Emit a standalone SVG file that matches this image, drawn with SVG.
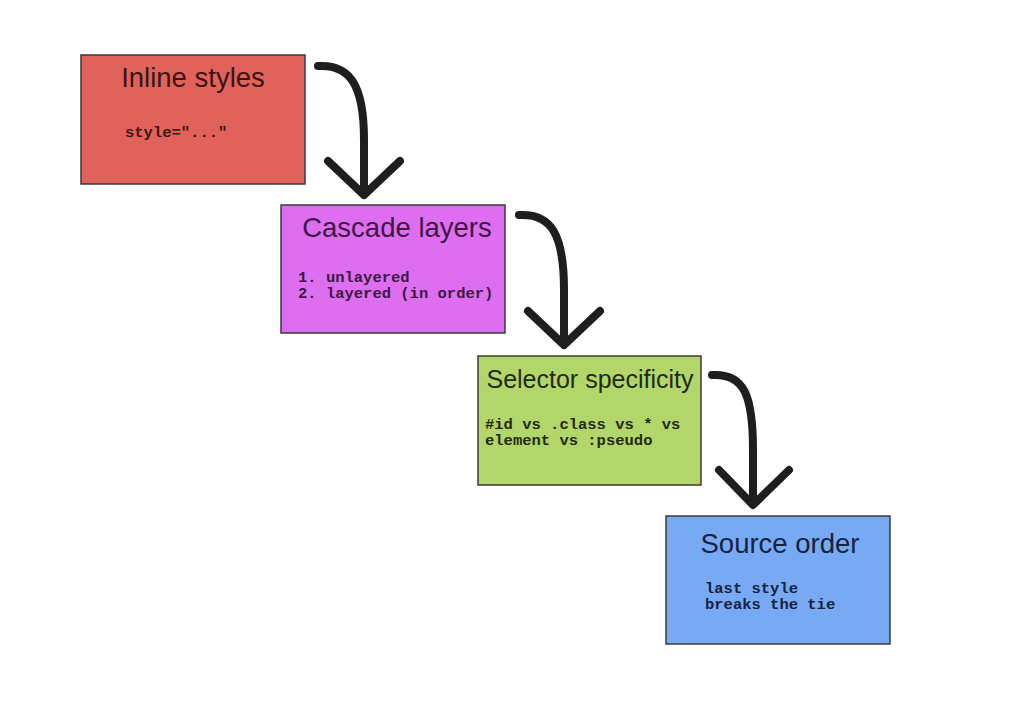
<svg xmlns="http://www.w3.org/2000/svg" width="1023" height="721" viewBox="0 0 1023 721">
<style>
.box{stroke:#3a3a3a;stroke-width:1.5}
.title{font-family:"Liberation Sans",Arial,sans-serif;font-size:27.5px;text-anchor:middle}
.code{font-family:"Liberation Mono","Courier New",monospace;font-size:15.5px;font-weight:bold}
.arrow{fill:none;stroke:#1e1e1e;stroke-width:8;stroke-linecap:round;stroke-linejoin:round}
</style>
<rect width="1023" height="721" fill="#ffffff"/>
<g id="node-inline">
<rect class="box" x="81" y="55" width="224" height="129" fill="#e0625a"/>
<text class="title" x="193" y="87" fill="#3a1512">Inline styles</text>
<text class="code" x="125" y="137" fill="#3a1512">style="..."</text>
</g>
<g id="node-layers">
<rect class="box" x="281" y="205" width="224" height="128" fill="#dd6ef0"/>
<text class="title" x="397" y="237" fill="#3d1646">Cascade layers</text>
<text class="code" x="298" y="282" fill="#3d1646">1. unlayered</text>
<text class="code" x="298" y="298" fill="#3d1646">2. layered (in order)</text>
</g>
<g id="node-specificity">
<rect class="box" x="478" y="356" width="223" height="129" fill="#b3d66a"/>
<text class="title" x="590" y="388" fill="#1f2a10" style="font-size:25px">Selector specificity</text>
<text class="code" x="485" y="429" fill="#1f2a10">#id vs .class vs * vs</text>
<text class="code" x="485" y="445" fill="#1f2a10">element vs :pseudo</text>
</g>
<g id="node-source">
<rect class="box" x="666" y="516" width="224" height="128" fill="#77aaf2"/>
<text class="title" x="780" y="553" fill="#14233f">Source order</text>
<text class="code" x="705" y="593" fill="#14233f">last style</text>
<text class="code" x="705" y="609" fill="#14233f">breaks the tie</text>
</g>
<g id="connectors">
<path class="arrow" d="M318 66 C350 64 364 85 364 140 L364 193"/>
<path class="arrow" d="M328 161 L364 195 L400 161"/>
<path class="arrow" d="M519 215 C551 213 564 234 564 290 L564 343"/>
<path class="arrow" d="M528 311 L564 345 L600 311"/>
<path class="arrow" d="M712 375 C744 373 753 395 753 450 L753 503"/>
<path class="arrow" d="M719 470 L753 505 L789 470"/>
</g>
</svg>
